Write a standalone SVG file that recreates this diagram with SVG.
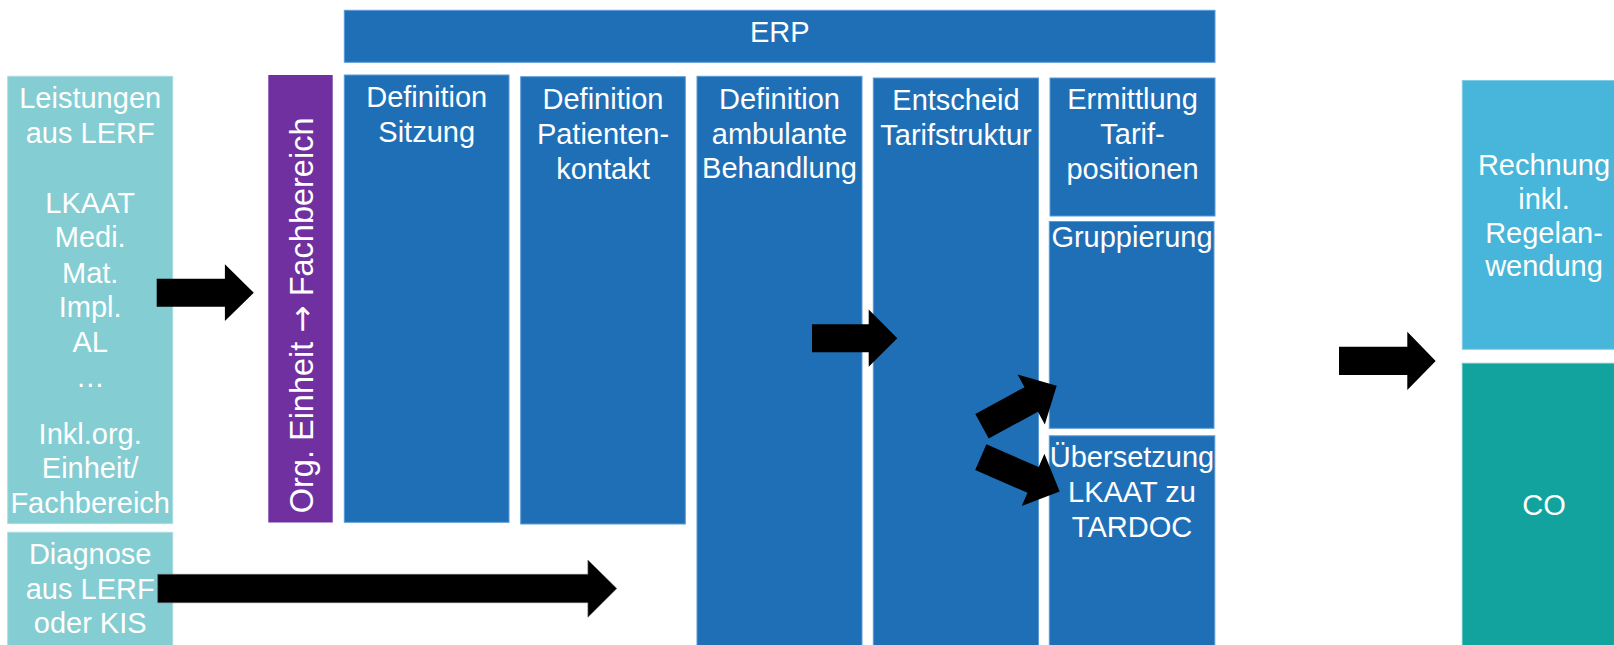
<svg xmlns="http://www.w3.org/2000/svg" width="1614" height="645" viewBox="0 0 1614 645">
<style>
text{font-family:"Liberation Sans",Arial,sans-serif;font-size:29px;fill:#ffffff;text-anchor:middle}
.erp{fill:#1F6FB7;stroke:#5B9BD5;stroke-width:1}
.lt{fill:#84CDD2;stroke:#A8DDE1;stroke-width:1}
.pu{fill:#7030A0}
.re{fill:#47B6DA;stroke:#7FCDE6;stroke-width:1}
.co{fill:#12A39E;stroke:#5CC3BF;stroke-width:1}
.arr{fill:#000000}
.sym{font-family:"DejaVu Sans",sans-serif}
</style>
<defs>
<polygon id="a85" points="0,-14 56,-14 56,-28.5 85,0 56,28.5 56,14 0,14"/>
<polygon id="a86" points="0,-14 57,-14 57,-28.5 86,0 57,28.5 57,14 0,14"/>
</defs>
<rect width="1614" height="645" fill="#ffffff"/>
<g id="erp">
<rect class="erp" x="344.3" y="10.3" width="870.7" height="52"/>
<text x="779.7" y="41.7">ERP</text>
</g>
<g id="leistungen">
<rect class="lt" x="7.7" y="76.3" width="165" height="447.3"/>
<text x="90.2" y="108.3">Leistungen</text>
<text x="90.2" y="142.7">aus LERF</text>
<text x="90.2" y="212.7">LKAAT</text>
<text x="90.2" y="247.3">Medi.</text>
<text x="90.2" y="282.5">Mat.</text>
<text x="90.2" y="316.7">Impl.</text>
<text x="90.2" y="351.7">AL</text>
<text x="90.2" y="386.7">…</text>
<text x="90.2" y="444">Inkl.org.</text>
<text x="90.2" y="478.3">Einheit/</text>
<text x="90.2" y="513.3">Fachbereich</text>
</g>
<g id="diagnose">
<rect class="lt" x="7.7" y="532.3" width="165" height="120"/>
<text x="90.2" y="564">Diagnose</text>
<text x="90.2" y="599">aus LERF</text>
<text x="90.2" y="633">oder KIS</text>
</g>
<g id="orgeinheit">
<rect class="pu" x="268.3" y="75" width="64.4" height="447.5"/>
<text transform="translate(313,315.4) rotate(-90)" style="font-size:32.5px">Org. Einheit <tspan class="sym">→</tspan> Fachbereich</text>
</g>
<g id="sitzung">
<rect class="erp" x="344.3" y="75" width="164.7" height="447.3"/>
<text x="426.7" y="107.3">Definition</text>
<text x="426.7" y="141.7">Sitzung</text>
</g>
<g id="patientenkontakt">
<rect class="erp" x="520.7" y="76.7" width="164.6" height="447.3"/>
<text x="603" y="109.3">Definition</text>
<text x="603" y="144">Patienten-</text>
<text x="603" y="179">kontakt</text>
</g>
<g id="ambulant">
<rect class="erp" x="697" y="76.3" width="165" height="600"/>
<text x="779.5" y="109.3">Definition</text>
<text x="779.5" y="143.5">ambulante</text>
<text x="779.5" y="177.7">Behandlung</text>
</g>
<g id="tarifstruktur">
<rect class="erp" x="873.3" y="78" width="165.2" height="600"/>
<text x="956" y="110">Entscheid</text>
<text x="956" y="145">Tarifstruktur</text>
</g>
<g id="ermittlung">
<rect class="erp" x="1050" y="78" width="165" height="138"/>
<text x="1132.5" y="109.3">Ermittlung</text>
<text x="1132.5" y="144.3">Tarif-</text>
<text x="1132.5" y="179">positionen</text>
</g>
<g id="gruppierung">
<rect class="erp" x="1049.3" y="221.5" width="164.7" height="206.8"/>
<text x="1132" y="246.7">Gruppierung</text>
</g>
<g id="uebersetzung">
<rect class="erp" x="1049.3" y="435.8" width="165.5" height="240"/>
<text x="1132" y="466.7">Übersetzung</text>
<text x="1132" y="501.7">LKAAT zu</text>
<text x="1132" y="536.7">TARDOC</text>
</g>
<g id="rechnung">
<rect class="re" x="1462.3" y="80.5" width="170" height="268.8"/>
<text x="1544" y="175">Rechnung</text>
<text x="1544" y="208.5">inkl.</text>
<text x="1544" y="242.5">Regelan-</text>
<text x="1544" y="275.5">wendung</text>
</g>
<g id="co">
<rect class="co" x="1462.3" y="363.3" width="170" height="300"/>
<text x="1544" y="515">CO</text>
</g>
<g id="connectors">
<polygon class="arr" points="156.7,278.7 224.9,278.7 224.9,264.3 253.8,292.7 224.9,321 224.9,306.7 156.7,306.7"/>
<polygon class="arr" points="157.7,574.3 587.9,574.3 587.9,560 616.8,588.5 587.9,617.3 587.9,602.7 157.7,602.7" stroke="#666" stroke-width="0.6"/>
<polygon class="arr" points="812,324.2 868.7,324.2 868.7,309.5 897.3,338.3 868.7,366.7 868.7,352.3 812,352.3"/>
<polygon class="arr" points="1339,346.7 1407.3,346.7 1407.3,331.7 1435.7,361 1407.3,390 1407.3,375 1339,375"/>
<use href="#a85" class="arr" transform="translate(982,426.2) rotate(-28.5)"/>
<use href="#a86" class="arr" transform="translate(980.8,457.2) rotate(23.5)"/>
</g>
</svg>
